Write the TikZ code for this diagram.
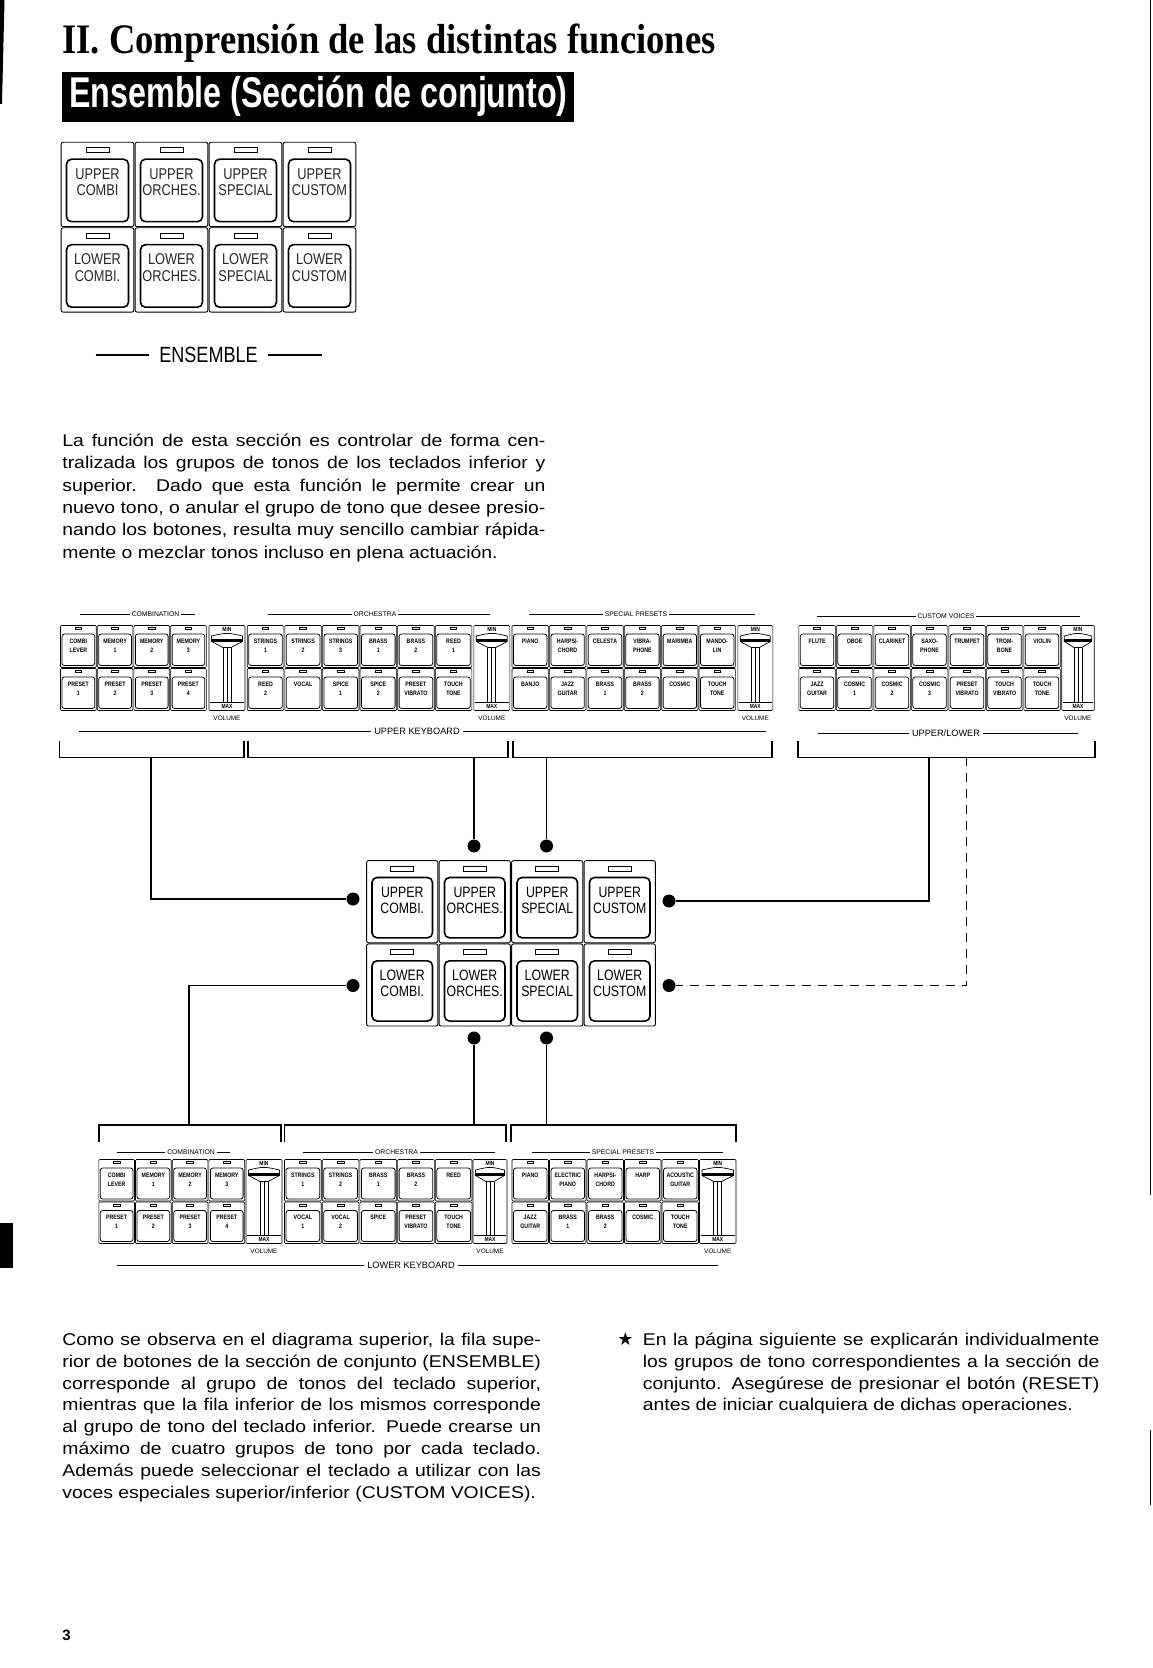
\documentclass[tikz,border=0pt]{standalone}
\usepackage{fontspec}
\setmainfont{Liberation Sans}
\newfontfamily\titlefont[FakeStretch=0.87]{Liberation Serif}
\newfontfamily\bannerfont[FakeStretch=0.75]{Liberation Sans}
\newfontfamily\bodyfont[FakeStretch=1.14]{Liberation Sans}
\newfontfamily\labfont[FakeStretch=0.82]{Liberation Sans}
\newfontfamily\starfont{DejaVu Sans}

\tikzset{
  cellframe/.style={draw,line width=.3pt,rounded corners=.5pt},
  ledbox/.style={draw,line width=.35pt},
  btnface/.style={draw,line width=.4pt,rounded corners=1.2pt},
  ensframe/.style={draw,line width=.45pt,rounded corners=1pt},
  ensface/.style={draw,line width=.8pt,rounded corners=2.5pt},
  thinline/.style={line width=.35pt},
  kbtext/.style={anchor=north,inner sep=0,align=center,font=\labfont\bfseries\fontsize{3.2}{4.4}\selectfont},
  mmtext/.style={inner sep=0,font=\labfont\bfseries\fontsize{3}{3.2}\selectfont},
  voltext/.style={inner sep=0,font=\fontsize{3.2}{3.5}\selectfont},
  hdrtext/.style={fill=white,inner xsep=1pt,inner ysep=.3pt,font=\fontsize{3.4}{4}\selectfont},
  kbdtext/.style={fill=white,inner xsep=1.5pt,inner ysep=.3pt,font=\fontsize{4.6}{5}\selectfont},
  enstext/.style={anchor=north,inner sep=0,align=center,text=black!85,font=\labfont\fontsize{7.8}{8.1}\selectfont},
  ensctext/.style={anchor=north,inner sep=0,align=center,font=\labfont\fontsize{7.5}{8}\selectfont},
  bodytext/.style={anchor=base west,inner sep=0,font=\bodyfont\fontsize{8.5}{11.15}\selectfont},
  brk/.style={line width=.8pt},
  link/.style={line width=.8pt},
  linkdash/.style={line width=.8pt,dash pattern=on 4.5pt off 3.5pt},
  jdot/.style={circle,fill,inner sep=0,minimum size=6.5pt}
}

\newcommand{\jl}[1]{\makebox[\linewidth][s]{#1}}
% keyboard button: name, x, y, w, h, label
\newcommand{\kbtn}[6]{%
  \draw[cellframe] (#2+0.5,#3+0.5) rectangle (#2+#4-0.5,#3+#5-0.5);
  \draw[ledbox] (#2+#4/2-3.3,#3+2.4) rectangle (#2+#4/2+3.3,#3+4.8);
  \draw[btnface] (#2+2,#3+9) rectangle (#2+#4-2,#3+#5-2.5);
  \node[kbtext] (#1) at (#2+#4/2,#3+13.5) {#6};}
% volume slider: name, x, y, w, h
\newcommand{\kslider}[5]{%
  \draw[cellframe] (#2+0.5,#3+0.5) rectangle (#2+#4-0.5,#3+#5-0.5);
  \node[mmtext] (#1-min) at (#2+#4/2,#3+4) {MIN};
  \draw[thinline] (#2+3,#3+11) .. controls (#2+#4/2,#3+7.5) .. (#2+#4-3,#3+11) -- (#2+#4-3,#3+16.5)
    -- (#2+#4/2+4,#3+22.5) -- (#2+#4/2-4,#3+22.5) -- (#2+3,#3+16.5) -- cycle;
  \fill (#2+3,#3+13.5) rectangle (#2+#4-3,#3+16.5);
  \draw[thinline] (#2+#4/2-4,#3+22.5) -- (#2+#4/2-4,#3+#5-9) (#2+#4/2,#3+22.5) -- (#2+#4/2,#3+#5-9)
    (#2+#4/2+4,#3+22.5) -- (#2+#4/2+4,#3+#5-9) (#2+1.5,#3+#5-9) -- (#2+#4-1.5,#3+#5-9);
  \node[mmtext] (#1-max) at (#2+#4/2,#3+#5-4.5) {MAX};
  \node[voltext] (#1-vol) at (#2+#4/2,#3+#5+7.5) {VOLUME};}
% ensemble button: name, x, y, w, h, label, text style
\newcommand{\enscell}[7]{%
  \draw[ensframe] (#2+0.6,#3+0.6) rectangle (#2+#4-0.6,#3+#5-0.6);
  \draw[ledbox] (#2+#4/2-11.5,#3+6) rectangle (#2+#4/2+11.5,#3+11);
  \draw[ensface] (#2+6,#3+17.5) rectangle (#2+#4-6,#3+#5-5.5);
  \node[#7] (#1) at (#2+#4/2,#3+26.5) {#6};}
% group header: name, x1, x2, y, label x, label, style
\newcommand{\grouphdr}[7]{%
  \draw[thinline] (#2,#4) -- (#3,#4);
  \node[#7] (#1) at (#5,#4) {#6};}

\begin{document}
\begin{tikzpicture}[x=0.5pt,y=-0.5pt]
\useasboundingbox (0,0) rectangle (1152,1668);
\fill[white] (0,0) rectangle (1152,1668);
% page edges
\fill (0,0) -- (4.5,0) -- (2,104) -- (0,104) -- cycle;
\fill (0,1223) rectangle (12.5,1268);
\draw[line width=.8pt] (1150.5,0) -- (1150.5,1195) (1150.5,1430) -- (1150.5,1505);

% headings
\node[anchor=base west,inner sep=0,font=\titlefont\bfseries\fontsize{21}{24}\selectfont] (title) at (62,54) {II.\ Comprensión de las distintas funciones};
\fill (62,72) rectangle (574,122);
\node[anchor=base west,inner sep=0,text=white,font=\bannerfont\bfseries\fontsize{21.5}{24}\selectfont] (banner) at (69,108) {Ensemble (Sección de conjunto)};

% ensemble panel
\foreach \lab [count=\i from 0] in {{UPPER\\COMBI},{UPPER\\ORCHES.},{UPPER\\SPECIAL},{UPPER\\CUSTOM}}
  {\enscell{top-u\i}{60.5+74*\i}{141.7}{74}{85.5}{\lab}{enstext}}
\foreach \lab [count=\i from 0] in {{LOWER\\COMBI.},{LOWER\\ORCHES.},{LOWER\\SPECIAL},{LOWER\\CUSTOM}}
  {\enscell{top-l\i}{60.5+74*\i}{227.2}{74}{85.5}{\lab}{enstext}}
\node[inner xsep=5pt,inner ysep=0,font=\labfont\fontsize{11}{12}\selectfont] (enslab) at (208.5,355) {ENSEMBLE};
\coordinate (ensL) at (95.7,355);
\coordinate (ensR) at (321.5,355);
\draw[line width=.6pt] (ensL) -- (enslab) (enslab) -- (ensR);

% intro text
\node[bodytext] (intro) at (62,446.5) {\parbox[t]{241.5pt}{%
\jl{La función de esta sección es controlar de forma cen-}\\
\jl{tralizada los grupos de tonos de los teclados inferior y}\\
\jl{superior. Dado que esta función le permite crear un}\\
\jl{nuevo tono, o anular el grupo de tono que desee presio-}\\
\jl{nando los botones, resulta muy sencillo cambiar rápida-}\\
mente o mezclar tonos incluso en plena actuación.}};

% upper keyboard
\grouphdr{uh-comb}{80}{195}{614}{155.5}{COMBINATION}{hdrtext}
\grouphdr{uh-orch}{268}{490}{614}{375}{ORCHESTRA}{hdrtext}
\grouphdr{uh-spec}{529}{755}{614}{636}{SPECIAL PRESETS}{hdrtext}
\grouphdr{uh-cust}{816.7}{1080}{616}{946}{CUSTOM VOICES}{hdrtext}
\foreach \lab [count=\i from 0] in {{COMBI\\LEVER},{MEMORY\\1},{MEMORY\\2},{MEMORY\\3}}
  {\kbtn{ucA-\i}{60+36.7*\i}{625}{36.7}{43}{\lab}}
\foreach \lab [count=\i from 0] in {{PRESET\\1},{PRESET\\2},{PRESET\\3},{PRESET\\4}}
  {\kbtn{ucB-\i}{60+36.7*\i}{668}{36.7}{43}{\lab}}
\kslider{uvol1}{208.5}{625}{37}{86}
\foreach \lab [count=\i from 0] in {{STRINGS\\1},{STRINGS\\2},{STRINGS\\3},{BRASS\\1},{BRASS\\2},{REED\\1}}
  {\kbtn{uoA-\i}{246.7+37.6*\i}{625}{37.6}{43}{\lab}}
\foreach \lab [count=\i from 0] in {{REED\\2},{VOCAL},{SPICE\\1},{SPICE\\2},{PRESET\\VIBRATO},{TOUCH\\TONE}}
  {\kbtn{uoB-\i}{246.7+37.6*\i}{668}{37.6}{43}{\lab}}
\kslider{uvol2}{473.3}{625}{37}{86}
\foreach \lab [count=\i from 0] in {{PIANO},{HARPSI-\\CHORD},{CELESTA},{VIBRA-\\PHONE},{MARIMBA},{MANDO-\\LIN}}
  {\kbtn{usA-\i}{511.5+37.4*\i}{625}{37.4}{43}{\lab}}
\foreach \lab [count=\i from 0] in {{BANJO},{JAZZ\\GUITAR},{BRASS\\1},{BRASS\\2},{COSMIC},{TOUCH\\TONE}}
  {\kbtn{usB-\i}{511.5+37.4*\i}{668}{37.4}{43}{\lab}}
\kslider{uvol3}{737.3}{625}{36}{86}
\foreach \lab [count=\i from 0] in {{FLUTE},{OBOE},{CLARINET},{SAXO-\\PHONE},{TRUMPET},{TROM-\\BONE},{VIOLIN}}
  {\kbtn{cvA-\i}{798.3+37.5*\i}{625}{37.5}{43}{\lab}}
\foreach \lab [count=\i from 0] in {{JAZZ\\GUITAR},{COSMIC\\1},{COSMIC\\2},{COSMIC\\3},{PRESET\\VIBRATO},{TOUCH\\VIBRATO},{TOUCH\\TONE}}
  {\kbtn{cvB-\i}{798.3+37.5*\i}{668}{37.5}{43}{\lab}}
\kslider{cvol}{1061.2}{625}{33.5}{86}
\grouphdr{ukbd}{79}{766}{731}{417}{UPPER KEYBOARD}{kbdtext}
\grouphdr{uplo}{818}{1078}{733}{946}{UPPER/LOWER}{kbdtext}
\foreach \a/\b in {59.6/244,248/508,513/771.7,797.7/1094.7}
  \draw[brk] (\a,741) -- (\a,757.3) -- (\b,757.3) -- (\b,741);

% central ensemble block
\foreach \lab [count=\i from 0] in {{UPPER\\COMBI.},{UPPER\\ORCHES.},{UPPER\\SPECIAL},{UPPER\\CUSTOM}}
  {\enscell{ens-u\i}{366+72.5*\i}{860}{72.5}{83.3}{\lab}{ensctext}}
\foreach \lab [count=\i from 0] in {{LOWER\\COMBI.},{LOWER\\ORCHES.},{LOWER\\SPECIAL},{LOWER\\CUSTOM}}
  {\enscell{ens-l\i}{366+72.5*\i}{943.3}{72.5}{83.3}{\lab}{ensctext}}
\node[jdot] (d-ucombi) at (353,899) {};
\node[jdot] (d-uorch) at (474,846) {};
\node[jdot] (d-uspec) at (546.5,846) {};
\node[jdot] (d-ucust) at (669,901) {};
\node[jdot] (d-lcombi) at (353,985.5) {};
\node[jdot] (d-lcust) at (669,985.5) {};
\node[jdot] (d-lorch) at (474,1038) {};
\node[jdot] (d-lspec) at (546.5,1038) {};

% taps on the brackets
\coordinate (t-ucombi) at (151,757.3);
\coordinate (t-uorch) at (474,757.3);
\coordinate (t-uspec) at (546.5,757.3);
\coordinate (t-ucust) at (929,757.3);
\coordinate (t-lcust) at (966.4,757.3);
\coordinate (t-lcombi) at (189,1125);
\coordinate (t-lorch) at (474,1125);
\coordinate (t-lspec) at (546.5,1125);
\draw[link] (t-ucombi) |- (d-ucombi);
\draw[link] (t-uorch) -- (d-uorch);
\draw[link] (t-uspec) -- (d-uspec);
\draw[link] (t-ucust) |- (d-ucust);
\draw[linkdash] (t-lcust) |- (d-lcust);
\draw[link] (d-lcombi) -| (t-lcombi);
\draw[link] (d-lorch) -- (t-lorch);
\draw[link] (d-lspec) -- (t-lspec);

% lower keyboard
\foreach \a/\b in {98.8/281,284.6/505.8,511.2/736}
  \draw[brk] (\a,1141.7) -- (\a,1125) -- (\b,1125) -- (\b,1141.7);
\grouphdr{lh-comb}{116.7}{230}{1152}{191}{COMBINATION}{hdrtext}
\grouphdr{lh-orch}{303}{494.6}{1152}{396.5}{ORCHESTRA}{hdrtext}
\grouphdr{lh-spec}{531.7}{723}{1152}{623}{SPECIAL PRESETS}{hdrtext}
\foreach \lab [count=\i from 0] in {{COMBI\\LEVER},{MEMORY\\1},{MEMORY\\2},{MEMORY\\3}}
  {\kbtn{lcA-\i}{98.3+36.7*\i}{1159}{36.7}{42.5}{\lab}}
\foreach \lab [count=\i from 0] in {{PRESET\\1},{PRESET\\2},{PRESET\\3},{PRESET\\4}}
  {\kbtn{lcB-\i}{98.3+36.7*\i}{1201.5}{36.7}{42.5}{\lab}}
\kslider{lvol1}{245.5}{1159}{37}{85}
\foreach \lab [count=\i from 0] in {{STRINGS\\1},{STRINGS\\2},{BRASS\\1},{BRASS\\2},{REED}}
  {\kbtn{loA-\i}{284+37.7*\i}{1159}{37.7}{42.5}{\lab}}
\foreach \lab [count=\i from 0] in {{VOCAL\\1},{VOCAL\\2},{SPICE},{PRESET\\VIBRATO},{TOUCH\\TONE}}
  {\kbtn{loB-\i}{284+37.7*\i}{1201.5}{37.7}{42.5}{\lab}}
\kslider{lvol2}{472.5}{1159}{35}{85}
\foreach \lab [count=\i from 0] in {{PIANO},{ELECTRIC\\PIANO},{HARPSI-\\CHORD},{HARP},{ACOUSTIC\\GUITAR}}
  {\kbtn{lsA-\i}{511.5+37.5*\i}{1159}{37.5}{42.5}{\lab}}
\foreach \lab [count=\i from 0] in {{JAZZ\\GUITAR},{BRASS\\1},{BRASS\\2},{COSMIC},{TOUCH\\TONE}}
  {\kbtn{lsB-\i}{511.5+37.5*\i}{1201.5}{37.5}{42.5}{\lab}}
\kslider{lvol3}{699}{1159}{37.5}{85}
\grouphdr{lkbd}{116.7}{718}{1265.5}{411}{LOWER KEYBOARD}{kbdtext}

% closing text
\node[bodytext,font=\bodyfont\fontsize{8.5}{10.9}\selectfont] (notes) at (62,1345.5) {\parbox[t]{239.3pt}{%
\jl{Como se observa en el diagrama superior, la fila supe-}\\
\jl{rior de botones de la sección de conjunto (ENSEMBLE)}\\
\jl{corresponde al grupo de tonos del teclado superior,}\\
\jl{mientras que la fila inferior de los mismos corresponde}\\
\jl{al grupo de tono del teclado inferior. Puede crearse un}\\
\jl{máximo de cuatro grupos de tono por cada teclado.}\\
\jl{Además puede seleccionar el teclado a utilizar con las}\\
voces especiales superior/inferior (CUSTOM VOICES).}};
\node[anchor=base west,inner sep=0,font=\starfont\fontsize{9}{10}\selectfont] (star) at (617,1345.5) {★};
\node[bodytext,font=\bodyfont\fontsize{8.5}{10.9}\selectfont] (hint) at (642.5,1345.5) {\parbox[t]{228.3pt}{%
\jl{En la página siguiente se explicarán individualmente}\\
\jl{los grupos de tono correspondientes a la sección de}\\
\jl{conjunto. Asegúrese de presionar el botón (RESET)}\\
antes de iniciar cualquiera de dichas operaciones.}};
\node[anchor=base west,inner sep=0,font=\bfseries\fontsize{7.5}{8}\selectfont] (pageno) at (62,1640.5) {3};
\end{tikzpicture}
\end{document}
